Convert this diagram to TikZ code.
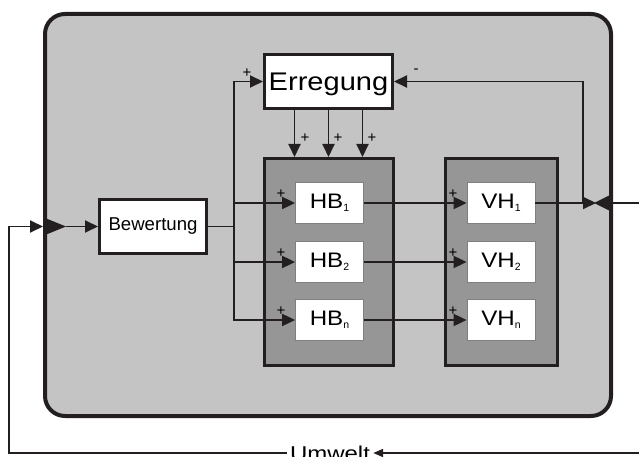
\documentclass[tikz,border=0pt]{standalone}
\usepackage{fontspec}
\setmainfont{Liberation Sans}
\usepackage{graphicx}
\usetikzlibrary{arrows.meta,calc}
\definecolor{inkc}{RGB}{35,31,32}
\definecolor{sysfill}{RGB}{196,196,196}
\definecolor{contfill}{RGB}{150,150,150}
\definecolor{boxedge}{RGB}{128,128,128}
\newcommand{\fsz}[1]{\fontsize{#1}{#1}\selectfont}
\newcommand{\unitlabel}[2]{\scalebox{1.15}[1]{#1}\raisebox{-2.5pt}{\fsz{10.5}#2}}
\begin{document}
\begin{tikzpicture}[x=1pt,y=-1pt,
  line/.style={draw=inkc, line width=1.9pt},
  conn/.style={line, -{Triangle[length=13pt,width=12pt]}},
  sysbox/.style={draw=inkc, line width=4pt, fill=sysfill, rounded corners=20pt, minimum width=566pt, minimum height=402pt, inner sep=0pt},
  contbox/.style={draw=inkc, line width=3pt, fill=contfill, inner sep=0pt, minimum height=207pt},
  mainbox/.style={draw=inkc, line width=3pt, fill=white, inner sep=0pt, minimum height=54pt},
  unitbox/.style={draw=boxedge, line width=0.8pt, fill=white, minimum width=68pt, minimum height=41pt, inner sep=0pt, font=\fsz{21}},
  sign/.style={inner sep=0pt, font=\fsz{15}}]
\useasboundingbox (0,0) rectangle (639,457);

% system and containers
\node[sysbox] (sys) at (328,215) {};
\node[contbox, minimum width=129pt] (hbc) at (329,262) {};
\node[contbox, minimum width=112pt] (vhc) at (501.5,262) {};

% main boxes
\node[mainbox, minimum width=107pt, font=\fsz{18.6}] (bew) at (153,226.5) {Bewertung};
\node[mainbox, minimum width=128pt, font=\fsz{25.5}, text depth=0pt] (err) at (328.5,81.5) {\scalebox{1.14}[1]{Erregung}};

% units
\node[unitbox] (hb1) at (329.5,203) {\unitlabel{HB}{1}};
\node[unitbox] (hb2) at (329.5,262) {\unitlabel{HB}{2}};
\node[unitbox] (hbn) at (329.5,320) {\unitlabel{HB}{n}};
\node[unitbox] (vh1) at (501,203) {\unitlabel{VH}{1}};
\node[unitbox] (vh2) at (501,262) {\unitlabel{VH}{2}};
\node[unitbox] (vhn) at (501,320) {\unitlabel{VH}{n}};

% environment label
\node[inner xsep=3pt, inner ysep=0pt, font=\fsz{20}] (umw) at (330,453) {\scalebox{1.2}[1]{Umwelt}};

% coordinates
\coordinate (split) at (234,226.5);
\coordinate (ltip) at (66,226.5);
\coordinate (lin) at (9,226.5);
\coordinate (fb) at (583,203);
\coordinate (rtip) at (596,203);
\coordinate (rout) at (639,203);
\coordinate (rbot) at (639,453);

% input from environment
\draw[conn] (umw.west) -| (lin) -- (bew -| sys.west);
\fill[inkc] (45,218) -- (45,235) -- (ltip) -- cycle;
\draw[conn] (ltip) -- (bew.west);

% distribution
\draw[line] (bew.east) -- (split);
\draw[conn] (split) |- (err.west);
\draw[conn] (split) |- (hb1.west);
\draw[conn] (split) |- (hb2.west);
\draw[conn] (split) |- (hbn.west);

% excitation arrows
\foreach \dx/\nm in {-34/a,0/b,34/c} {
  \coordinate (eo\nm) at ($(err.south)+(\dx,0)$);
  \draw[conn] (eo\nm) -- (eo\nm |- hbc.north);
}

% HB -> VH
\draw[conn] (hb1.east) -- (vh1.west);
\draw[conn] (hb2.east) -- (vh2.west);
\draw[conn] (hbn.east) -- (vhn.west);

% output and feedback
\draw[conn] (vh1.east) -- (rtip);
\draw[conn] (fb) |- (err.east);
\fill[inkc] (611,194.5) -- (611,211.5) -- (594,203) -- cycle;
\draw[line] (sys.east |- rout) -- (rout);
\draw[line, -{Triangle[length=10pt,width=8pt]}] (rbot) -- (umw.east);

% signs
\node[sign] (s1) at (281,194) {+};
\node[sign] (s2) at (281,253) {+};
\node[sign] (s3) at (281,311) {+};
\node[sign] (s4) at (453,194) {+};
\node[sign] (s5) at (453,253) {+};
\node[sign] (s6) at (453,311) {+};
\node[sign] (s7) at (305,138) {+};
\node[sign] (s8) at (338,138) {+};
\node[sign] (s9) at (372,138) {+};
\node[sign] (s10) at (247,73) {+};
\node[sign] (s11) at (416,71) {-};
\end{tikzpicture}
\end{document}
